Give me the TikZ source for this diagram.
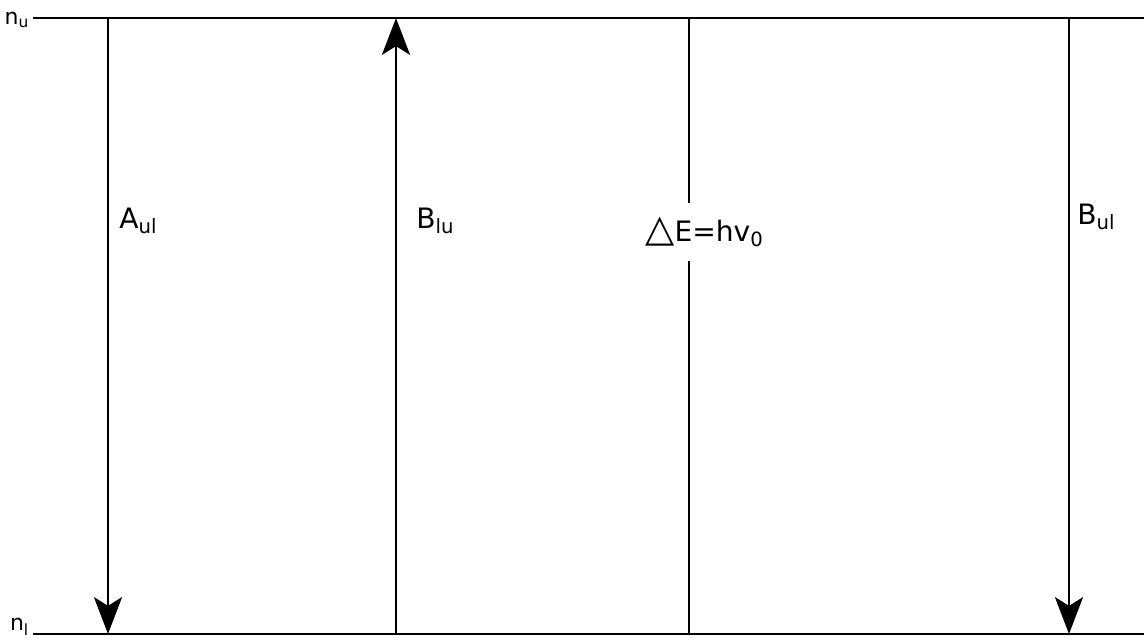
\documentclass[tikz,border=0pt]{standalone}
\usepackage{fontspec}
\setmainfont{DejaVu Sans}
\usetikzlibrary{arrows.meta}

\tikzset{
  level/.style={line width=1.4pt},
  trans/.style={line width=1.4pt, -{Stealth[length=21pt, width=16pt, inset=5pt]}},
  lbl/.style={font=\fontsize{16}{19}\selectfont, anchor=west, inner sep=0pt},
  nlbl/.style={font=\fontsize{12.5}{15}\selectfont, anchor=east, inner sep=2pt},
}

\begin{document}
\begin{tikzpicture}[x=0.02cm, y=-0.02cm]
    \useasboundingbox (0,0) rectangle (1144,641);
    % levels
    \node[nlbl] (nu) at (33,20) {n\textsubscript{u}};
    \node[nlbl] (nl) at (33,627) {n\textsubscript{l}};
    \coordinate (ur) at (1144,18);
    \coordinate (lr) at (1144,634);
    \draw[level] (nu.east |- ur) -- (ur);
    \draw[level] (nl.east |- lr) -- (lr);
    % transitions
    \coordinate (a1) at (108,18);  \coordinate (a0) at (108,634);
    \coordinate (b1) at (396,18);  \coordinate (b0) at (396,634);
    \coordinate (e1) at (689,18);  \coordinate (e0) at (689,634);
    \coordinate (c1) at (1069,18); \coordinate (c0) at (1069,634);
    \draw[trans] (a1) -- (a0);
    \draw[trans] (b0) -- (b1);
    \draw[trans] (c1) -- (c0);
    \node[lbl] (aul) at (119,221) {A\textsubscript{ul}};
    \node[lbl] (blu) at (416,221) {B\textsubscript{lu}};
    \node[lbl] (bul) at (1077,217) {B\textsubscript{ul}};
    \node[lbl, inner ysep=8pt] (de) at (645,232) {\scalebox{1.35}{△}E=hv\textsubscript{0}};
    \draw[level] (e1) -- (e1 |- de.north);
    \draw[level] (e0 |- de.south) -- (e0);
\end{tikzpicture}
\end{document}
